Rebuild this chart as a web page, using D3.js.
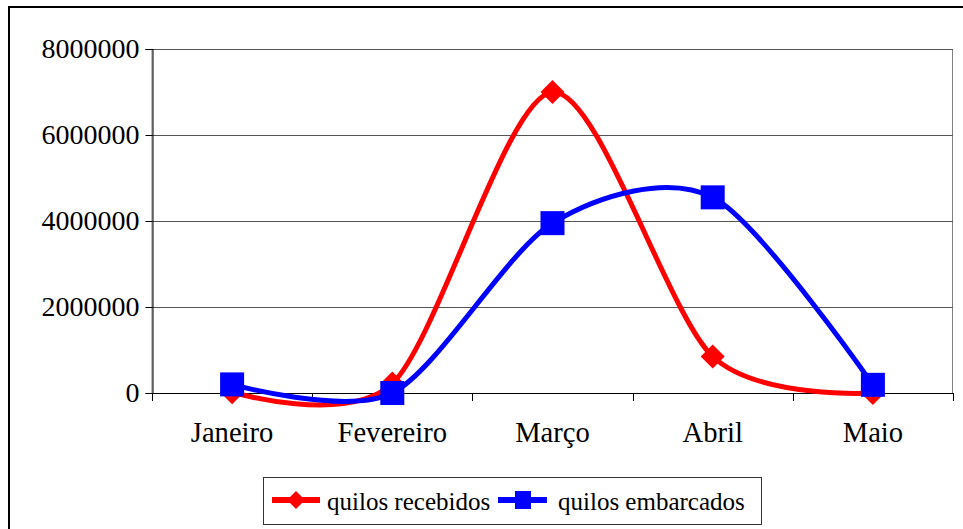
<!DOCTYPE html>
<html>
<head>
<meta charset="utf-8">
<script src="https://cdn.jsdelivr.net/npm/d3@7"></script>
<style>
  html, body { margin: 0; padding: 0; background: #fff; }
  svg { display: block; }
  text { font-family: "Liberation Serif", "Times New Roman", serif; fill: #000; }
</style>
</head>
<body>
<svg id="chart" width="963" height="529"></svg>
<script>
const categories = ["Janeiro", "Fevereiro", "Março", "Abril", "Maio"];
const recebidos = [20000, 220000, 7000000, 850000, 0];
const embarcados = [200000, 0, 3950000, 4550000, 190000];
const yTicks = [0, 2000000, 4000000, 6000000, 8000000];
const seriesNames = ["quilos recebidos", "quilos embarcados"];

const svg = d3.select("#chart");
const plot = { left: 152, right: 953, top: 49, bottom: 393 };

// outer chart border
svg.append("rect").attr("x", 9).attr("y", 7).attr("width", 980).attr("height", 560)
  .attr("fill", "#fff").attr("stroke", "#000").attr("stroke-width", 2);

const x = d3.scalePoint().domain(categories).range([plot.left, plot.right]).padding(0.5);
const y = d3.scaleLinear().domain([0, 8000000]).range([plot.bottom, plot.top]);

// plot area border (gray)
svg.append("rect").attr("x", plot.left).attr("y", plot.top + 0.5)
  .attr("width", plot.right - plot.left - 0.5).attr("height", plot.bottom - plot.top)
  .attr("fill", "none").attr("stroke", "#808080").attr("stroke-width", 1);

// gridlines
svg.append("g").selectAll("line").data(yTicks.filter(d => d > 0)).join("line")
  .attr("x1", plot.left).attr("x2", plot.right)
  .attr("y1", d => Math.round(y(d)) + 0.5).attr("y2", d => Math.round(y(d)) + 0.5)
  .attr("stroke", "#555").attr("stroke-width", 1);

// y axis
const yAxis = d3.axisLeft(y).tickValues(yTicks).tickFormat(d3.format("d")).tickSize(7).tickPadding(6);
const gy = svg.append("g").attr("transform", `translate(${plot.left + 0.5},0)`).call(yAxis)
  .attr("font-family", "Liberation Serif").attr("font-size", 28);
gy.select(".domain").attr("stroke", "#000");
gy.selectAll(".tick line").attr("stroke", "#000");
gy.selectAll(".tick text").attr("fill", "#000");

// x axis line
svg.append("line").attr("x1", plot.left).attr("x2", plot.right)
  .attr("y1", plot.bottom + 0.5).attr("y2", plot.bottom + 0.5).attr("stroke", "#000");
// category boundary ticks
const step = x.step();
const bounds = d3.range(categories.length + 1).map(i => plot.left + i * step);
svg.append("g").selectAll("line").data(bounds).join("line")
  .attr("x1", d => Math.round(d) + 0.5).attr("x2", d => Math.round(d) + 0.5)
  .attr("y1", plot.bottom).attr("y2", plot.bottom + 8).attr("stroke", "#000");
// category labels
svg.append("g").selectAll("text").data(categories).join("text")
  .attr("x", d => x(d)).attr("y", 442).attr("text-anchor", "middle")
  .attr("font-size", 28.6).text(d => d);

// lines
const line = d3.line().x((d, i) => x(categories[i])).y(d => y(d)).curve(d3.curveCardinal.tension(0.15));
svg.append("path").datum(recebidos).attr("d", line)
  .attr("fill", "none").attr("stroke", "#ff0000").attr("stroke-width", 5).attr("stroke-linejoin", "round");
svg.append("path").datum(embarcados).attr("d", line)
  .attr("fill", "none").attr("stroke", "#0000ff").attr("stroke-width", 5).attr("stroke-linejoin", "round");

// markers
const dia = (cx, cy, r) => `M${cx},${cy - r}L${cx + r},${cy}L${cx},${cy + r}L${cx - r},${cy}Z`;
svg.append("g").selectAll("path").data(recebidos).join("path")
  .attr("d", (d, i) => dia(x(categories[i]), y(d), 12)).attr("fill", "#ff0000");
svg.append("g").selectAll("rect").data(embarcados).join("rect")
  .attr("x", (d, i) => x(categories[i]) - 12).attr("y", d => y(d) - 12)
  .attr("width", 24).attr("height", 24).attr("fill", "#0000ff");

// legend
const lg = svg.append("g");
lg.append("rect").attr("x", 263.5).attr("y", 477.5).attr("width", 498).attr("height", 47)
  .attr("fill", "#fff").attr("stroke", "#333").attr("stroke-width", 1);
lg.append("line").attr("x1", 272).attr("x2", 320).attr("y1", 500).attr("y2", 500)
  .attr("stroke", "#ff0000").attr("stroke-width", 6);
lg.append("path").attr("d", dia(296, 500, 9)).attr("fill", "#ff0000");
lg.append("text").attr("x", 327).attr("y", 510).attr("font-size", 25).text(seriesNames[0]);
lg.append("line").attr("x1", 498).attr("x2", 547).attr("y1", 500).attr("y2", 500)
  .attr("stroke", "#0000ff").attr("stroke-width", 6);
lg.append("rect").attr("x", 515).attr("y", 491).attr("width", 16).attr("height", 18).attr("fill", "#0000ff");
lg.append("text").attr("x", 558).attr("y", 510).attr("font-size", 25).text(seriesNames[1]);
</script>
</body>
</html>
